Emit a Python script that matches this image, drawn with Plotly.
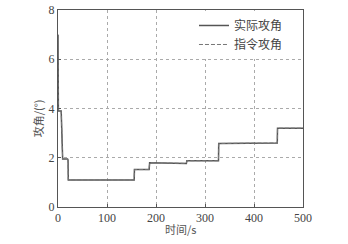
import plotly.graph_objects as go

t_actual = [0, 0.3, 0.8, 6.5, 7.5, 9.5, 19.5, 20.5, 21, 155.5, 156, 186, 187, 250, 251, 262, 263, 327.5, 328, 447.5, 448, 500]
a_actual = [7.0, 7.0, 3.9, 3.9, 2.6, 1.95, 1.95, 1.9, 1.1, 1.1, 1.52, 1.52, 1.8, 1.8, 1.77, 1.77, 1.88, 1.88, 2.58, 2.6, 3.2, 3.2]
t_cmd = [0, 0.3, 0.8, 6.5, 7.5, 9.5, 19.5, 20.5, 21, 155.5, 156, 186, 187, 250, 251, 262, 263, 327.5, 328, 447.5, 448, 500]
a_cmd = [7.0, 7.0, 3.9, 3.9, 2.6, 1.95, 1.95, 1.9, 1.1, 1.1, 1.52, 1.52, 1.8, 1.8, 1.77, 1.77, 1.88, 1.88, 2.58, 2.6, 3.2, 3.2]

x_ticks = [0, 100, 200, 300, 400, 500]
y_ticks = [0, 2, 4, 6, 8]
x_title = "时间/s"
y_title = "攻角/(°)"

line_color = "#555555"
serif = "Liberation Serif, Noto Serif CJK SC, Noto Sans CJK SC, serif"
cjk = "Noto Sans CJK SC, serif"

fig = go.Figure()
fig.add_trace(go.Scatter(x=t_actual, y=a_actual, mode="lines", name="实际攻角",
                         line=dict(color=line_color, width=1.5, dash="solid")))
fig.add_trace(go.Scatter(x=t_cmd, y=a_cmd, mode="lines", name="指令攻角",
                         line=dict(color="#777777", width=1, dash="4px,2px")))

axis_common = dict(showline=True, linecolor="#555555", linewidth=1, mirror=True,
                   showgrid=True, gridcolor="#aaaaaa", griddash="dot", gridwidth=1,
                   zeroline=False, ticks="inside", ticklen=3, tickcolor="#555555",
                   automargin=False,
                   tickfont=dict(family=serif, size=12, color="#444444"))

fig.update_layout(
    width=348, height=244,
    margin=dict(l=58, r=45, t=10, b=37, autoexpand=False),
    paper_bgcolor="white", plot_bgcolor="white",
    font=dict(family=serif, color="#444444"),
    showlegend=True,
    legend=dict(x=0.555, y=0.995, xanchor="left", yanchor="top",
                bgcolor="white", borderwidth=0,
                font=dict(family=cjk, size=12, color="#444444"),
                tracegroupgap=0),
    xaxis=dict(range=[0, 500], tickvals=x_ticks, **axis_common),
    yaxis=dict(range=[0, 8], tickvals=y_ticks, **axis_common),
    annotations=[
        dict(text=x_title, xref="paper", yref="paper", x=0.5, y=-0.112,
             xanchor="center", yanchor="middle", showarrow=False,
             font=dict(family=cjk, size=11, color="#555555")),
        dict(text=y_title, xref="paper", yref="paper", x=-0.08, y=0.452,
             xanchor="center", yanchor="middle", showarrow=False, textangle=-90,
             font=dict(family=cjk, size=11, color="#555555")),
    ],
)

fig.write_html("out.html", post_script="document.body.style.margin='0';",
               config={"displayModeBar": False})
